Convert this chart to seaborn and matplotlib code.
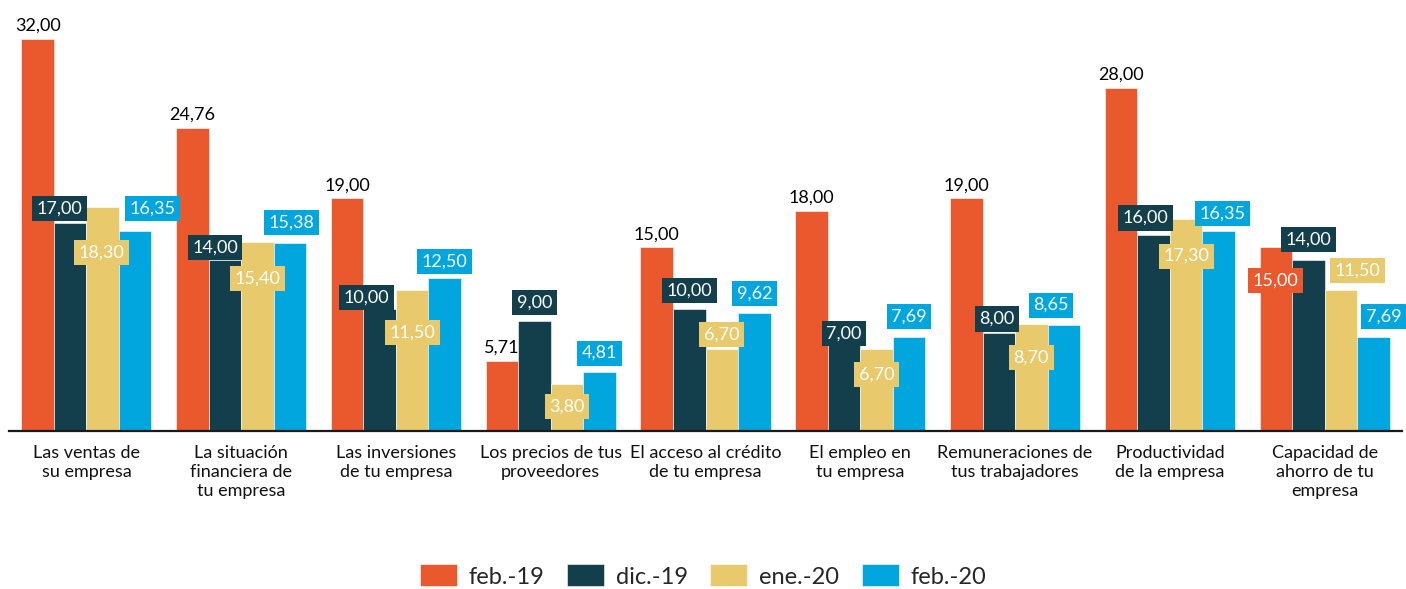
import matplotlib
matplotlib.use("Agg")
import matplotlib.pyplot as plt
import seaborn as sns
import pandas as pd

# ---------------- data ----------------
categories = [
    "Las ventas de\nsu empresa",
    "La situación\nfinanciera de\ntu empresa",
    "Las inversiones\nde tu empresa",
    "Los precios de tus\nproveedores",
    "El acceso al crédito\nde tu empresa",
    "El empleo en\ntu empresa",
    "Remuneraciones de\ntus trabajadores",
    "Productividad\nde la empresa",
    "Capacidad de\nahorro de tu\nempresa",
]
series = ["feb.-19", "dic.-19", "ene.-20", "feb.-20"]
feb19 = [32.00, 24.76, 19.00, 5.71, 15.00, 18.00, 19.00, 28.00, 15.00]
dic19 = [17.00, 14.00, 10.00, 9.00, 10.00, 7.00, 8.00, 16.00, 14.00]
ene20 = [18.30, 15.40, 11.50, 3.80, 6.70, 6.70, 8.70, 17.30, 11.50]
feb20 = [16.35, 15.38, 12.50, 4.81, 9.62, 7.69, 8.65, 16.35, 7.69]

# ---------------- style ----------------
colors = ["#EA592E", "#133E4C", "#E8C96C", "#00A6DD"]
# label offsets (pixels) of label centre relative to bar-top centre
label_dx = [
    [0, 0, 0, 0, 0, 0, 0, 0, 0],
    [-11, -10, -13, 0, 0, 0, -2, -8, 0],
    [-1, 0, 0, 0, 0, 0, 0, 0, 17],
    [17, 2, 0, 0, 0, 0, -13, 4, 10],
]
label_dy = [
    [13, 13, 13, 13, 13, 13, 13, 13, -33],
    [14, 12, 11, 18, 18, 12, 14, 17, 20],
    [-46, -36, -42, -22, 14, -26, -33, -37, 20],
    [22, 20, 16, 19, 20, 20, 20, 17, 20],
]
# feb.-19 labels are plain black text except where boxed
boxed = [
    [False] * 8 + [True],
    [True] * 9,
    [True] * 9,
    [True] * 9,
]

sns.set_theme(style="white")
plt.rcParams["font.family"] = ["Lato", "DejaVu Sans"]

values = [feb19, dic19, ene20, feb20]
rows = []
for s, vals in zip(series, values):
    for c, v in zip(categories, vals):
        rows.append({"cat": c, "serie": s, "val": v})
df = pd.DataFrame(rows)

fig = plt.figure(figsize=(14.06, 5.89), dpi=100)
ax = fig.add_axes([9 / 1406, 158 / 589, (1402 - 9) / 1406, 431 / 589])

sns.barplot(
    data=df, x="cat", y="val", hue="serie", order=categories,
    hue_order=series, palette=colors, width=0.84, gap=0,
    saturation=1, edgecolor="white", linewidth=0.4, ax=ax, legend=True,
)

ax.set_xlim(-0.5, len(categories) - 0.5)
ax.set_ylim(0, 431 / 12.25)
ax.set_xlabel("")
ax.set_ylabel("")
ax.set_yticks([])
for side in ["left", "right", "top"]:
    ax.spines[side].set_visible(False)
ax.spines["bottom"].set_color("#1a1a1a")
ax.spines["bottom"].set_linewidth(1.6)
ax.tick_params(axis="x", length=0, pad=10, labelsize=13)
for lab in ax.get_xticklabels():
    lab.set_linespacing(1.25)
    lab.set_color("#111111")

PX = 72 / 100.0
for si, cont in enumerate(ax.containers):
    for ci, bar in enumerate(cont):
        v = values[si][ci]
        x = bar.get_x() + bar.get_width() / 2
        top = bar.get_height()
        txt = f"{v:.2f}".replace(".", ",")
        kw = {}
        if boxed[si][ci]:
            kw["bbox"] = dict(boxstyle="square,pad=0.25", fc=colors[si], ec="none")
            tc = "white"
        else:
            tc = "black"
        ax.annotate(
            txt, xy=(x, top), xycoords="data",
            xytext=(label_dx[si][ci] * PX, label_dy[si][ci] * PX),
            textcoords="offset points", ha="center", va="center",
            fontsize=13, color=tc, zorder=5, annotation_clip=False, **kw,
        )

leg = ax.get_legend()
handles = leg.legend_handles
leg.remove()
fig.legend(
    handles, series, loc="center", bbox_to_anchor=(0.5, 1 - 576 / 589),
    ncol=4, frameon=False, fontsize=17, handlelength=1.57, handleheight=1.05,
    columnspacing=0.95, handletextpad=0.5, borderpad=0.1,
)

fig.savefig("out.png", dpi=100)
